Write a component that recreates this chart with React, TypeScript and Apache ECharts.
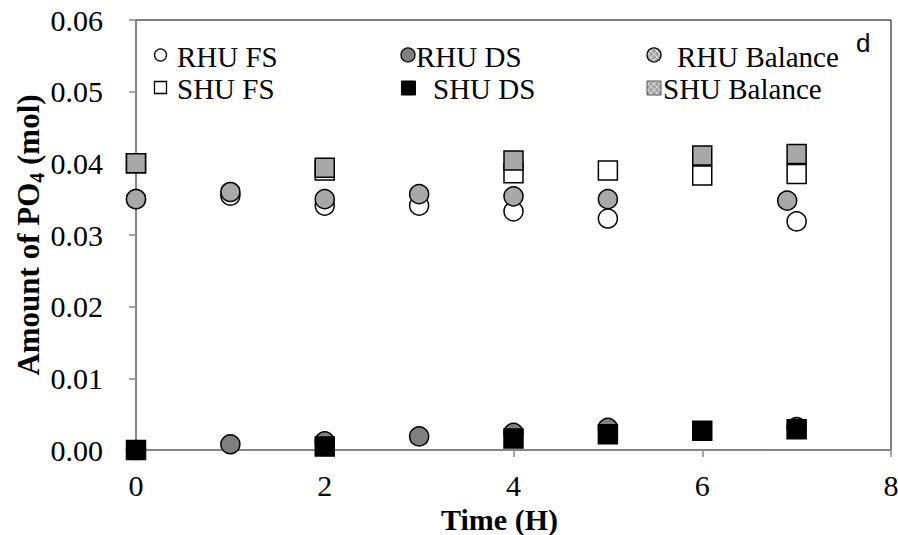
import React, { useEffect, useRef } from "react";
import * as echarts from "echarts";

// Sampling times (H) and amounts of PO4 (mol) for each series
const rhuFsTime = [0, 1, 2, 3, 4, 5, 7];
const rhuFsValue = [0.035, 0.0355, 0.0341, 0.0341, 0.0333, 0.0323, 0.0319];

const rhuDsTime = [0, 1, 2, 3, 4, 5, 7];
const rhuDsValue = [0, 0.0008, 0.0012, 0.0019, 0.0024, 0.0031, 0.0032];

const rhuBalTime = [0, 1, 2, 3, 4, 5, 6.9];
const rhuBalValue = [0.035, 0.036, 0.035, 0.0357, 0.0354, 0.035, 0.0348];

const shuFsTime = [0, 2, 4, 5, 6, 7];
const shuFsValue = [0.04, 0.039, 0.0386, 0.039, 0.0383, 0.0385];

const shuDsTime = [0, 2, 4, 5, 6, 7];
const shuDsValue = [0, 0.0005, 0.0016, 0.0022, 0.0027, 0.0029];

const shuBalTime = [0, 2, 4, 6, 7];
const shuBalValue = [0.04, 0.0394, 0.0404, 0.0411, 0.0413];

const yTicks = { min: 0, max: 0.06, step: 0.01 };
const xTicks = { min: 0, max: 8, step: 2 };

// y-axis title pieces: main text, subscript, trailing text
const yTitleParts = ["Amount of PO", "4", " (mol)"];

const SERIF = "'Liberation Serif', 'Times New Roman', serif";
const BAL_GREY = "#a8a8a8";

const pairs = (t: number[], v: number[]) => t.map((x, i) => [x, v[i]]);

// Grey dithered fill used for the "Balance" legend keys
function ditherFill() {
  const c = document.createElement("canvas");
  c.width = 6;
  c.height = 6;
  const ctx = c.getContext("2d")!;
  ctx.fillStyle = "#a4a4a4";
  ctx.fillRect(0, 0, 6, 6);
  ctx.fillStyle = "#d9d9d9";
  for (let i = 0; i < 6; i++) {
    for (let j = 0; j < 6; j++) {
      if (i === j || i + j === 5) ctx.fillRect(i, j, 1, 1);
    }
  }
  return { image: c, repeat: "repeat" } as any;
}

function measure(text: string, font: string) {
  const ctx = document.createElement("canvas").getContext("2d")!;
  ctx.font = font;
  return ctx.measureText(text).width;
}

export default function App() {
  const ref = useRef<HTMLDivElement>(null);

  useEffect(() => {
    const chart = echarts.init(ref.current!, undefined, { renderer: "svg" });
    const dither = ditherFill();

    const mk = (name: string, data: number[][], symbol: string, color: string) => ({
      name,
      type: "scatter",
      data,
      symbol,
      symbolSize: 19,
      itemStyle: { color, borderColor: "#000", borderWidth: 1.5, opacity: 1 },
      emphasis: { disabled: true },
    });

    const legendText = (x: number, y: number, text: string) => ({
      type: "text",
      x,
      y,
      style: { text, fill: "#000", font: `29px ${SERIF}`, verticalAlign: "middle" },
    });

    // rotated y-axis title with a subscript, laid out piece by piece
    const mainFont = `bold 31px ${SERIF}`;
    const subFont = `bold 20px ${SERIF}`;
    const w0 = measure(yTitleParts[0], mainFont);
    const w1 = measure(yTitleParts[1], subFont);
    const w2 = measure(yTitleParts[2], mainFont);
    const total = w0 + w1 + w2;
    const x0 = -total / 2;
    const yTitle = {
      type: "group",
      x: 28,
      y: 235,
      rotation: Math.PI / 2,
      children: [
        { type: "text", x: x0, y: 0, style: { text: yTitleParts[0], font: mainFont, fill: "#000", verticalAlign: "middle" } },
        { type: "text", x: x0 + w0, y: 9, style: { text: yTitleParts[1], font: subFont, fill: "#000", verticalAlign: "middle" } },
        { type: "text", x: x0 + w0 + w1, y: 0, style: { text: yTitleParts[2], font: mainFont, fill: "#000", verticalAlign: "middle" } },
      ],
    };

    chart.setOption({
      animation: false,
      backgroundColor: "#fff",
      grid: {
        left: 136,
        right: 7,
        top: 20,
        bottom: 85,
        show: true,
        borderColor: "#000",
        borderWidth: 1,
        containLabel: false,
        outerBoundsMode: "none",
      },
      xAxis: {
        type: "value",
        min: xTicks.min,
        max: xTicks.max,
        interval: xTicks.step,
        axisLine: { lineStyle: { color: "#8a8a8a", width: 1.5 } },
        axisTick: { show: true, length: 7, lineStyle: { color: "#8a8a8a", width: 1.5 } },
        splitLine: { show: false },
        axisLabel: { fontFamily: SERIF, fontSize: 30, color: "#000", margin: 20 },
        name: "Time (H)",
        nameLocation: "middle",
        nameGap: 48,
        nameTextStyle: {
          fontFamily: SERIF,
          fontWeight: "bold",
          fontSize: 30,
          color: "#000",
          padding: [0, 28, 0, 0],
        },
      },
      yAxis: {
        type: "value",
        min: yTicks.min,
        max: yTicks.max,
        interval: yTicks.step,
        axisLine: { show: true, lineStyle: { color: "#8a8a8a", width: 1.5 } },
        axisTick: { show: true, length: 7, lineStyle: { color: "#8a8a8a", width: 1.5 } },
        splitLine: { show: false },
        axisLabel: {
          fontFamily: SERIF,
          fontSize: 30,
          color: "#000",
          margin: 33,
          formatter: (v: number) => v.toFixed(2),
        },
      },
      series: [
        mk("RHU FS", pairs(rhuFsTime, rhuFsValue), "circle", "#fff"),
        mk("RHU DS", pairs(rhuDsTime, rhuDsValue), "circle", "#808080"),
        mk("RHU Balance", pairs(rhuBalTime, rhuBalValue), "circle", BAL_GREY),
        mk("SHU FS", pairs(shuFsTime, shuFsValue), "rect", "#fff"),
        mk("SHU DS", pairs(shuDsTime, shuDsValue), "rect", "#000"),
        mk("SHU Balance", pairs(shuBalTime, shuBalValue), "rect", BAL_GREY),
      ],
      graphic: [
        yTitle,
        // legend, column 1
        { type: "circle", shape: { cx: 160.5, cy: 55, r: 6 }, style: { fill: "#fff", stroke: "#000", lineWidth: 1.3 } },
        legendText(177, 57, "RHU FS"),
        { type: "rect", shape: { x: 154.5, y: 81.5, width: 12, height: 12 }, style: { fill: "#fff", stroke: "#000", lineWidth: 1.3 } },
        legendText(177, 88.5, "SHU FS"),
        // legend, column 2
        { type: "circle", shape: { cx: 408, cy: 55, r: 7 }, style: { fill: "#808080", stroke: "#000", lineWidth: 1.3 } },
        legendText(416, 57, "RHU DS"),
        { type: "rect", shape: { x: 401.5, y: 81, width: 14, height: 14 }, style: { fill: "#000", stroke: "#000", lineWidth: 1 } },
        legendText(433, 88.5, "SHU DS"),
        // legend, column 3
        { type: "circle", shape: { cx: 654, cy: 55, r: 7 }, style: { fill: dither, stroke: "#000", lineWidth: 1.3 } },
        legendText(677, 57, "RHU Balance"),
        { type: "rect", shape: { x: 647, y: 81, width: 14, height: 14 }, style: { fill: dither, stroke: "#555", lineWidth: 1 } },
        legendText(663, 88.5, "SHU Balance"),
        // panel letter
        {
          type: "text",
          x: 856,
          y: 30,
          style: { text: "d", fill: "#000", font: "26px 'Liberation Sans', Arial, sans-serif" },
        },
      ],
    });

    return () => chart.dispose();
  }, []);

  return <div ref={ref} style={{ width: 898, height: 535, position: "absolute", left: 0, top: 0 }} />;
}
